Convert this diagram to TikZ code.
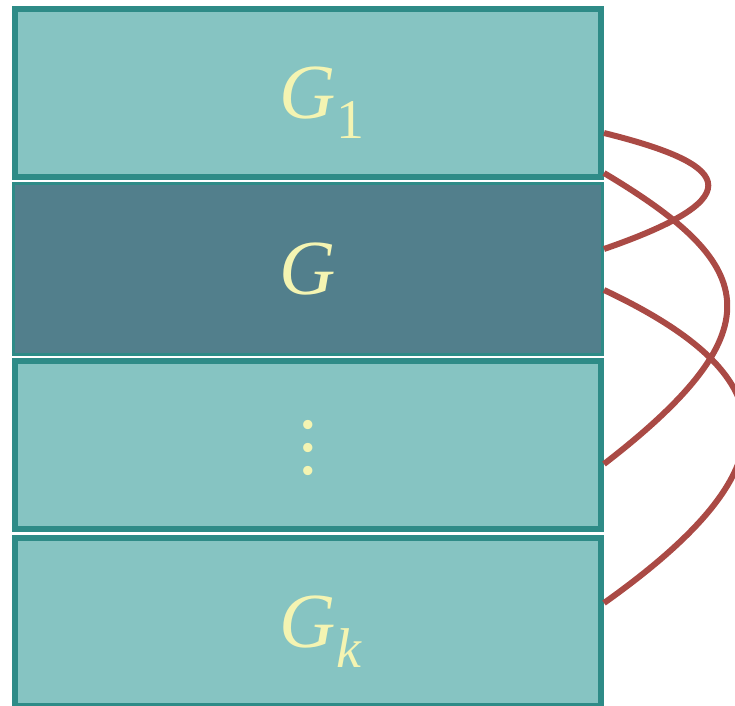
\documentclass[tikz,border=0pt]{standalone}
\usepackage{fontspec}
\setmainfont{Liberation Serif}
\usetikzlibrary{positioning}
\definecolor{tealborder}{HTML}{2E8B87}
\definecolor{tealfill}{HTML}{86C4C2}
\definecolor{slatefill}{HTML}{527F8C}
\definecolor{linkred}{HTML}{AA4A45}
\definecolor{labelyellow}{HTML}{F4F4B2}
\newcommand{\grp}[1]{\textit{G}\rlap{\raisebox{-20pt}[0pt][0pt]{\fontsize{56}{60}\selectfont #1}}}
\newcommand{\bigvdots}{\vbox{\kern6pt\baselineskip=23pt\hbox{.}\hbox{.}\hbox{.}}}

\begin{document}
\begin{tikzpicture}[x=1pt, y=1pt,
    layer/.style={draw=tealborder, line width=6pt, fill=tealfill, minimum width=586pt, minimum height=168pt, inner sep=0pt, text=labelyellow, font=\fontsize{78}{80}\selectfont},
    sublayer/.style={layer, line width=3pt, fill=slatefill, minimum width=589pt, minimum height=171pt},
    link/.style={draw=linkred, line width=6pt},
    node distance=2pt
  ]
    \useasboundingbox (0,0) rectangle (735,-705);
    \clip (0,0) rectangle (735,-705);

    \node[layer] (box1) at (308,-93) {\grp{1}};
    \node[sublayer, below=of box1] (boxG) {\textit{G}};
    \node[layer, below=of boxG] (box3) {\bigvdots};
    \node[layer, below=3pt of box3] (boxk) {\grp{\textit{k}}};

    % links on the right side
    \draw[link] ([yshift=-40pt]box1.east) .. controls +(121,-30) and +(156,54) .. ([yshift=20pt]boxG.east);
    \draw[link] ([yshift=-80pt]box1.east) .. controls +(149,-89) and +(179,138) .. ([yshift=-19pt]box3.east);
    \draw[link] ([yshift=-21pt]boxG.east) .. controls +(189,-89) and +(187,133) .. ([yshift=19pt]boxk.east);
  \end{tikzpicture}
\end{document}
